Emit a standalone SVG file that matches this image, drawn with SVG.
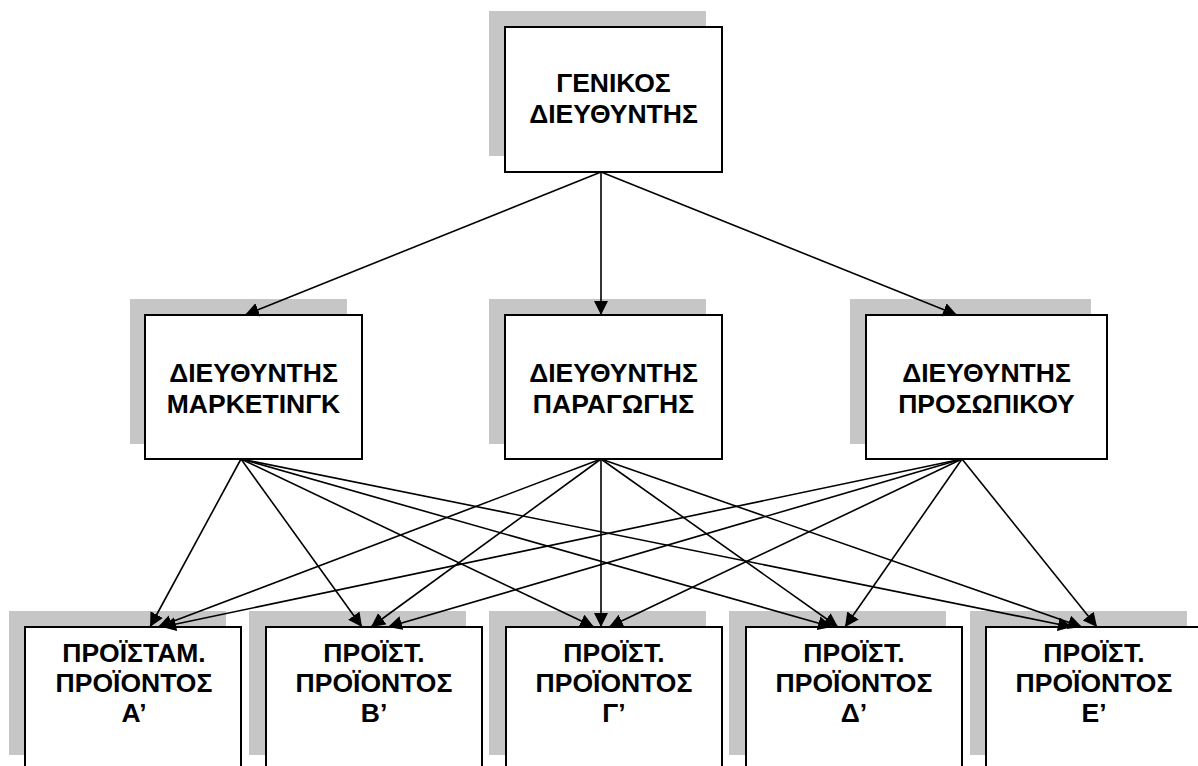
<svg xmlns="http://www.w3.org/2000/svg" width="1198" height="766" viewBox="0 0 1198 766">
  <defs>
    <marker id="arrow" markerUnits="userSpaceOnUse" markerWidth="15" markerHeight="15" refX="14" refY="7" orient="auto">
      <path d="M0,0 L14,7 L0,14 z" fill="#000"/>
    </marker>
  </defs>
  <style>
    .shadow { fill: #c6c6c6; }
    .box { fill: #fff; stroke: #000; stroke-width: 2; }
    .label { font-family: "Liberation Sans", Arial, sans-serif; font-weight: bold; font-size: 26.5px; fill: #000; text-anchor: middle; }
    .link { stroke: #000; stroke-width: 1.6; fill: none; }
  </style>
  <rect width="1198" height="766" fill="#fff"/>

  <!-- top level -->
  <g id="general-manager">
    <rect class="shadow" x="489" y="11" width="217" height="145"/>
    <rect class="box" x="505" y="27" width="217" height="145"/>
    <text class="label" x="613.5" y="92">ΓΕΝΙΚΟΣ</text>
    <text class="label" x="613.5" y="123">ΔΙΕΥΘΥΝΤΗΣ</text>
  </g>

  <!-- directors -->
  <g id="marketing-director">
    <rect class="shadow" x="130" y="299" width="217" height="145"/>
    <rect class="box" x="145" y="315" width="217" height="144"/>
    <text class="label" x="253.5" y="382">ΔΙΕΥΘΥΝΤΗΣ</text>
    <text class="label" x="253.5" y="413">ΜΑΡΚΕΤΙΝΓΚ</text>
  </g>
  <g id="production-director">
    <rect class="shadow" x="489" y="299" width="217" height="145"/>
    <rect class="box" x="505" y="315" width="217" height="144"/>
    <text class="label" x="613.5" y="382">ΔΙΕΥΘΥΝΤΗΣ</text>
    <text class="label" x="613.5" y="413">ΠΑΡΑΓΩΓΗΣ</text>
  </g>
  <g id="personnel-director">
    <rect class="shadow" x="850" y="299" width="241" height="145"/>
    <rect class="box" x="866" y="315" width="241" height="144"/>
    <text class="label" x="986.5" y="382">ΔΙΕΥΘΥΝΤΗΣ</text>
    <text class="label" x="986.5" y="413">ΠΡΟΣΩΠΙΚΟΥ</text>
  </g>

  <!-- product heads -->
  <g id="product-a">
    <rect class="shadow" x="9" y="611" width="217" height="144"/>
    <rect class="box" x="25" y="627" width="216" height="160"/>
    <text class="label" x="134" y="662">ΠΡΟΪΣΤΑΜ.</text>
    <text class="label" x="134" y="692">ΠΡΟΪΟΝΤΟΣ</text>
    <text class="label" x="134" y="722">Α’</text>
  </g>
  <g id="product-b">
    <rect class="shadow" x="249" y="611" width="217" height="144"/>
    <rect class="box" x="266" y="627" width="216" height="160"/>
    <text class="label" x="374" y="662">ΠΡΟΪΣΤ.</text>
    <text class="label" x="374" y="692">ΠΡΟΪΟΝΤΟΣ</text>
    <text class="label" x="374" y="722">Β’</text>
  </g>
  <g id="product-c">
    <rect class="shadow" x="489" y="611" width="217" height="144"/>
    <rect class="box" x="506" y="627" width="216" height="160"/>
    <text class="label" x="614" y="662">ΠΡΟΪΣΤ.</text>
    <text class="label" x="614" y="692">ΠΡΟΪΟΝΤΟΣ</text>
    <text class="label" x="614" y="722">Γ’</text>
  </g>
  <g id="product-d">
    <rect class="shadow" x="729" y="611" width="217" height="144"/>
    <rect class="box" x="746" y="627" width="216" height="160"/>
    <text class="label" x="854" y="662">ΠΡΟΪΣΤ.</text>
    <text class="label" x="854" y="692">ΠΡΟΪΟΝΤΟΣ</text>
    <text class="label" x="854" y="722">Δ’</text>
  </g>
  <g id="product-e">
    <rect class="shadow" x="970" y="611" width="217" height="144"/>
    <rect class="box" x="986" y="627" width="216" height="160"/>
    <text class="label" x="1094" y="662">ΠΡΟΪΣΤ.</text>
    <text class="label" x="1094" y="692">ΠΡΟΪΟΝΤΟΣ</text>
    <text class="label" x="1094" y="722">Ε’</text>
  </g>

  <!-- connectors, drawn over the shadows -->
  <g id="connectors">
    <!-- general manager to directors -->
    <line class="link" x1="601" y1="172" x2="245" y2="315" marker-end="url(#arrow)"/>
    <line class="link" x1="601" y1="172" x2="601" y2="315" marker-end="url(#arrow)"/>
    <line class="link" x1="601" y1="172" x2="957" y2="315" marker-end="url(#arrow)"/>
    <!-- marketing director to product heads -->
    <line class="link" x1="241" y1="459" x2="150" y2="627" marker-end="url(#arrow)"/>
    <line class="link" x1="241" y1="459" x2="362" y2="627" marker-end="url(#arrow)"/>
    <line class="link" x1="241" y1="459" x2="594" y2="627" marker-end="url(#arrow)"/>
    <line class="link" x1="241" y1="459" x2="832" y2="627" marker-end="url(#arrow)"/>
    <line class="link" x1="241" y1="459" x2="1072" y2="627" marker-end="url(#arrow)"/>
    <!-- production director to product heads -->
    <line class="link" x1="601" y1="459" x2="158" y2="627" marker-end="url(#arrow)"/>
    <line class="link" x1="601" y1="459" x2="371" y2="627" marker-end="url(#arrow)"/>
    <line class="link" x1="601" y1="459" x2="601" y2="627" marker-end="url(#arrow)"/>
    <line class="link" x1="601" y1="459" x2="838" y2="627" marker-end="url(#arrow)"/>
    <line class="link" x1="601" y1="459" x2="1082" y2="627" marker-end="url(#arrow)"/>
    <!-- personnel director to product heads -->
    <line class="link" x1="962" y1="459" x2="162" y2="627" marker-end="url(#arrow)"/>
    <line class="link" x1="962" y1="459" x2="388" y2="627" marker-end="url(#arrow)"/>
    <line class="link" x1="962" y1="459" x2="609" y2="627" marker-end="url(#arrow)"/>
    <line class="link" x1="962" y1="459" x2="845" y2="627" marker-end="url(#arrow)"/>
    <line class="link" x1="962" y1="459" x2="1097" y2="627" marker-end="url(#arrow)"/>
  </g>
</svg>
